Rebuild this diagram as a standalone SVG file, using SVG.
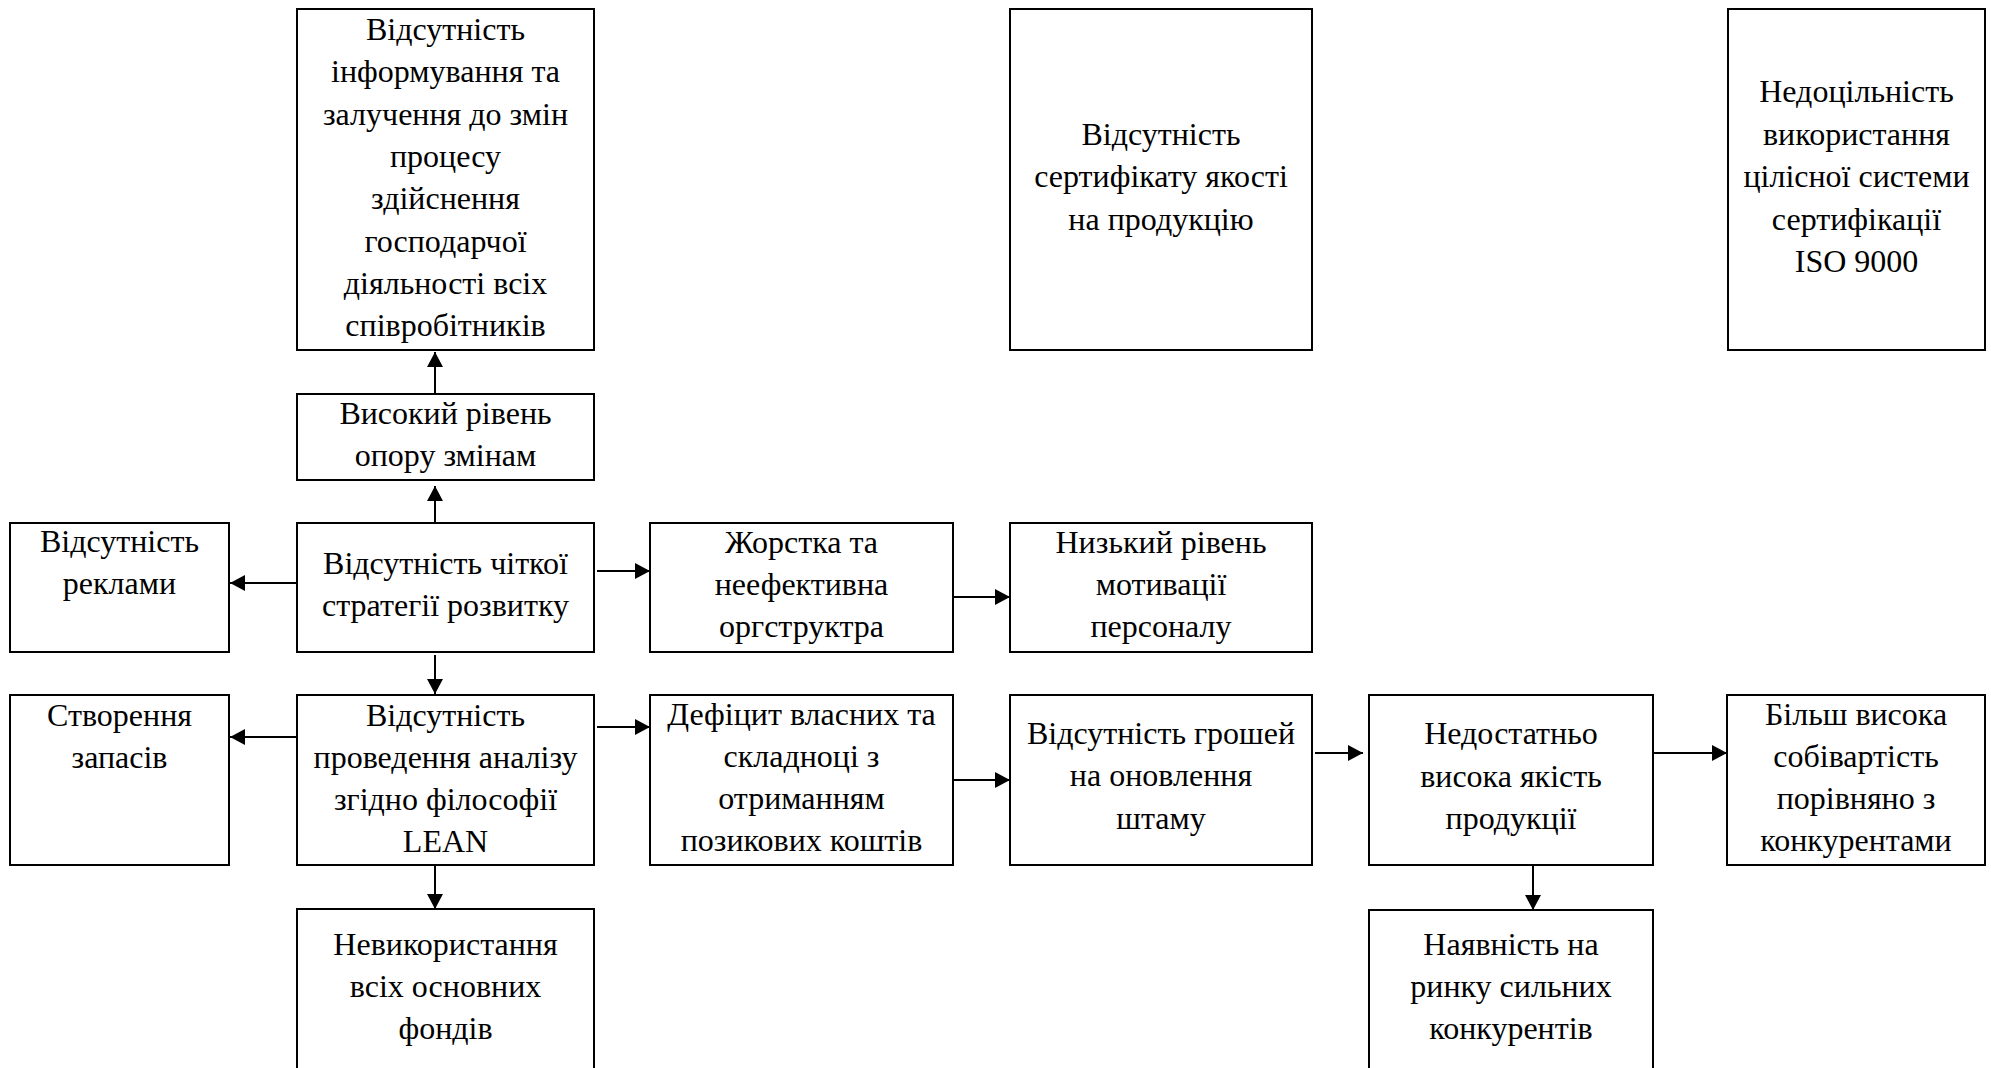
<svg xmlns="http://www.w3.org/2000/svg" width="1991" height="1068" viewBox="0 0 1991 1068">
<style>
.box{fill:#fff;stroke:#000;stroke-width:2}
.t{font-family:"Liberation Serif","Times New Roman",serif;font-size:32px;fill:#000;text-anchor:middle}
.c{stroke:#000;stroke-width:2;fill:none;marker-end:url(#ah)}
</style>
<defs>
<marker id="ah" markerUnits="userSpaceOnUse" markerWidth="16" markerHeight="16" refX="15" refY="8" orient="auto">
<path d="M0,0 L15,8 L0,16 z" fill="#000"/>
</marker>
</defs>
<rect width="1991" height="1068" fill="#fff"/>
<g id="connectors">
<line class="c" x1="435" y1="394" x2="435" y2="352"/>
<line class="c" x1="435" y1="527" x2="435" y2="486"/>
<line class="c" x1="297" y1="583" x2="230" y2="583"/>
<line class="c" x1="597" y1="571" x2="650" y2="571"/>
<line class="c" x1="435" y1="655" x2="435" y2="694"/>
<line class="c" x1="297" y1="737" x2="230" y2="737"/>
<line class="c" x1="597" y1="727" x2="650" y2="727"/>
<line class="c" x1="435" y1="865" x2="435" y2="909"/>
<line class="c" x1="953" y1="597" x2="1010" y2="597"/>
<line class="c" x1="953" y1="780" x2="1010" y2="780"/>
<line class="c" x1="1315" y1="753" x2="1363" y2="753"/>
<line class="c" x1="1653" y1="753" x2="1727" y2="753"/>
<line class="c" x1="1533" y1="865" x2="1533" y2="910"/>
</g>
<g id="n_info">
<rect class="box" x="297" y="9" width="297" height="341"/>
<text class="t" x="445.5" y="40">Відсутність</text>
<text class="t" x="445.5" y="82">інформування та</text>
<text class="t" x="445.5" y="124.5">залучення до змін</text>
<text class="t" x="445.5" y="167">процесу</text>
<text class="t" x="445.5" y="209">здійснення</text>
<text class="t" x="445.5" y="251.5">господарчої</text>
<text class="t" x="445.5" y="294">діяльності всіх</text>
<text class="t" x="445.5" y="336">співробітників</text>
</g>
<g id="n_opir">
<rect class="box" x="297" y="394" width="297" height="86"/>
<text class="t" x="445.5" y="424">Високий рівень</text>
<text class="t" x="445.5" y="466">опору змінам</text>
</g>
<g id="n_reklama">
<rect class="box" x="10" y="523" width="219" height="129"/>
<text class="t" x="119.5" y="552">Відсутність</text>
<text class="t" x="119.5" y="594">реклами</text>
</g>
<g id="n_strategy">
<rect class="box" x="297" y="523" width="297" height="129"/>
<text class="t" x="445.5" y="574">Відсутність чіткої</text>
<text class="t" x="445.5" y="616">стратегії розвитку</text>
</g>
<g id="n_orgstr">
<rect class="box" x="650" y="523" width="303" height="129"/>
<text class="t" x="801.5" y="553">Жорстка та</text>
<text class="t" x="801.5" y="595">неефективна</text>
<text class="t" x="801.5" y="637">оргструктра</text>
</g>
<g id="n_motiv">
<rect class="box" x="1010" y="523" width="302" height="129"/>
<text class="t" x="1161" y="553">Низький рівень</text>
<text class="t" x="1161" y="595">мотивації</text>
<text class="t" x="1161" y="637">персоналу</text>
</g>
<g id="n_zapasy">
<rect class="box" x="10" y="695" width="219" height="170"/>
<text class="t" x="119.5" y="726">Створення</text>
<text class="t" x="119.5" y="768">запасів</text>
</g>
<g id="n_lean">
<rect class="box" x="297" y="695" width="297" height="170"/>
<text class="t" x="445.5" y="726">Відсутність</text>
<text class="t" x="445.5" y="768">проведення аналізу</text>
<text class="t" x="445.5" y="810">згідно філософії</text>
<text class="t" x="445.5" y="852">LEAN</text>
</g>
<g id="n_deficit">
<rect class="box" x="650" y="695" width="303" height="170"/>
<text class="t" x="801.5" y="725">Дефіцит власних та</text>
<text class="t" x="801.5" y="767">складноці з</text>
<text class="t" x="801.5" y="809">отриманням</text>
<text class="t" x="801.5" y="851">позикових коштів</text>
</g>
<g id="n_money">
<rect class="box" x="1010" y="695" width="302" height="170"/>
<text class="t" x="1161" y="744">Відсутність грошей</text>
<text class="t" x="1161" y="786">на оновлення</text>
<text class="t" x="1161" y="829">штаму</text>
</g>
<g id="n_quality">
<rect class="box" x="1369" y="695" width="284" height="170"/>
<text class="t" x="1511" y="744">Недостатньо</text>
<text class="t" x="1511" y="787">висока якість</text>
<text class="t" x="1511" y="829">продукції</text>
</g>
<g id="n_cost">
<rect class="box" x="1727" y="695" width="258" height="170"/>
<text class="t" x="1856" y="725">Більш висока</text>
<text class="t" x="1856" y="767">собівартість</text>
<text class="t" x="1856" y="809">порівняно з</text>
<text class="t" x="1856" y="851">конкурентами</text>
</g>
<g id="n_funds">
<rect class="box" x="297" y="909" width="297" height="170"/>
<text class="t" x="445.5" y="955">Невикористання</text>
<text class="t" x="445.5" y="997">всіх основних</text>
<text class="t" x="445.5" y="1039">фондів</text>
</g>
<g id="n_competitors">
<rect class="box" x="1369" y="910" width="284" height="170"/>
<text class="t" x="1511" y="955">Наявність на</text>
<text class="t" x="1511" y="997">ринку сильних</text>
<text class="t" x="1511" y="1039">конкурентів</text>
</g>
<g id="n_cert">
<rect class="box" x="1010" y="9" width="302" height="341"/>
<text class="t" x="1161" y="145">Відсутність</text>
<text class="t" x="1161" y="187">сертифікату якості</text>
<text class="t" x="1161" y="230">на продукцію</text>
</g>
<g id="n_iso">
<rect class="box" x="1728" y="9" width="257" height="341"/>
<text class="t" x="1856.5" y="102">Недоцільність</text>
<text class="t" x="1856.5" y="145">використання</text>
<text class="t" x="1856.5" y="187">цілісної системи</text>
<text class="t" x="1856.5" y="230">сертифікації</text>
<text class="t" x="1856.5" y="272">ISO 9000</text>
</g>
</svg>
